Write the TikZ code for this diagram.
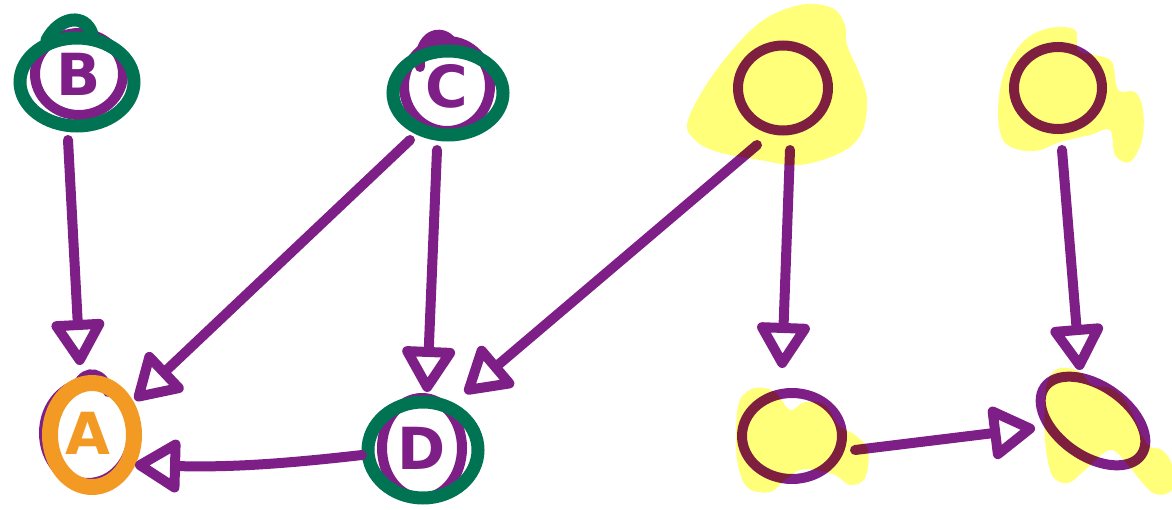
\documentclass[tikz,border=0pt]{standalone}
\usepackage{fontspec}
\setmainfont{DejaVu Sans}
\usetikzlibrary{arrows.meta,shapes.geometric,calc}
\definecolor{ink}{HTML}{7E1F87}
\definecolor{pine}{HTML}{007352}
\definecolor{amber}{HTML}{F39A24}
\definecolor{marker}{HTML}{FFFF7A}
\begin{document}
\begin{tikzpicture}[x=1pt,y=-1pt,
  vert/.style={ellipse, draw=ink, line width=10pt, inner sep=0pt, text=ink,
    font=\bfseries\fontsize{58}{58}\selectfont},
  ring/.style={line width=13pt, draw=pine, line cap=round},
  halo/.style={line width=16pt, draw=amber},
  loopstroke/.style={line width=10pt, draw=ink, line cap=round},
  edge/.style={draw=ink, line width=10pt, line cap=round, line join=round,
    -{Triangle[open,round,length=50pt,width=58pt]}},
  glow/.style={fill=marker, draw=none, blend mode=multiply}
]
\useasboundingbox (0,0) rectangle (1172,510);

% vertices
\node[vert, minimum width=88pt, minimum height=82pt] (B) at (79,74) {B};
\node[vert, minimum width=86pt, minimum height=90pt] (C) at (447,86) {C};
\node[vert, minimum width=88pt, minimum height=100pt, text=amber] (A) at (88,433) {A};
\node[vert, minimum width=80pt, minimum height=100pt] (D) at (422,448) {D};
\node[vert, minimum width=90pt, minimum height=85pt] (E) at (783,88) {};
\node[vert, minimum width=88pt, minimum height=82pt] (F) at (1058,88) {};
\node[vert, minimum width=100pt, minimum height=86pt] (G) at (792,436) {};
\node[vert, minimum width=118pt, minimum height=70pt, rotate=-35] (H) at (1093,421) {};

% pen start loops
\draw[loopstroke] ([shift={(-27,-19)}]C.center) .. controls ([shift={(-29,-53)}]C.center) and ([shift={(-5,-58)}]C.center) .. ([shift={(5,-44)}]C.center);
\draw[loopstroke] ([shift={(-10,-48)}]A.center) .. controls ([shift={(-3,-65)}]A.center) and ([shift={(17,-61)}]A.center) .. ([shift={(20,-41)}]A.center);

% group rings
\draw[ring] ([shift={(-2,8)}]B.center) ellipse [x radius=57, y radius=44];
\draw[ring] ([shift={(-32,-34)}]B.center) .. controls ([shift={(-19,-58)}]B.center) and ([shift={(6,-61)}]B.center) .. ([shift={(13,-40)}]B.center);
\draw[ring] ([shift={(1,7)}]C.center) ellipse [x radius=55, y radius=42];
\draw[ring] ([shift={(1,2)}]D.center) ellipse [x radius=55, y radius=48];
\draw[halo] ([shift={(4,2)}]A.center) ellipse [x radius=42, y radius=52];

% connectors
\draw[edge] ($(B)+(-11,66)$) -- ($(A)+(-8,-68)$);
\draw[edge] ($(C)+(-37,54)$) -- ($(A)+(47,-33)$);
\draw[edge] ($(C)+(-10,64)$) -- ($(D)+(5,-56)$);
\draw[edge] ($(E)+(-26,57)$) -- ($(D)+(43,-55)$);
\draw[edge] ($(E)+(7,62)$) -- ($(G)+(-10,-68)$);
\draw[edge] ($(F)+(4,62)$) -- ($(H)+(-13,-51)$);
\draw[edge] ($(D)+(-60,7)$) to[bend left=4] ($(A)+(47,32)$);
\draw[edge] ($(G)+(63,14)$) -- ($(H)+(-58,7)$);

% highlighter marks
\fill[glow] plot[smooth cycle, tension=0.6] coordinates {(688,120) (715,72) (758,24) (800,5) (832,8) (845,25) (847,45) (860,75) (867,100) (862,132) (842,152) (800,165) (760,160) (718,152) (695,140)};
\fill[glow] plot[smooth cycle, tension=0.6] coordinates {(998,110) (1005,70) (1025,40) (1050,28) (1075,30) (1078,50) (1095,55) (1112,62) (1118,90) (1135,92) (1143,110) (1142,140) (1130,162) (1115,155) (1110,130) (1090,135) (1060,142) (1040,150) (1020,150) (1003,140)};
\fill[glow] plot[smooth cycle, tension=0.6] coordinates {(740,400) (755,388) (775,392) (790,410) (805,402) (825,405) (838,425) (855,435) (868,450) (865,478) (850,485) (835,475) (815,470) (800,470) (785,480) (770,492) (748,488) (738,465) (736,430)};
\fill[glow] plot[smooth cycle, tension=0.6] coordinates {(1048,380) (1060,368) (1080,372) (1092,385) (1110,388) (1125,400) (1135,420) (1148,445) (1162,450) (1172,465) (1172,490) (1155,494) (1140,480) (1128,465) (1110,450) (1085,470) (1068,483) (1052,475) (1045,440) (1045,400)};
\end{tikzpicture}
\end{document}
